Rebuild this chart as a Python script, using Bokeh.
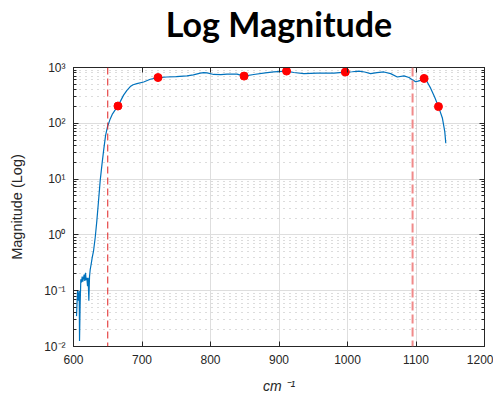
from bokeh.plotting import figure
from bokeh.models import (LogAxis, LinearAxis, FixedTicker, Span, Title,
                          CustomJSTickFormatter, Range1d)
from bokeh.embed import file_html
from bokeh.resources import INLINE

# ---------------- data ----------------
wavenumber = [604.4, 605.9, 607.3, 608.3, 608.8, 609.7, 610.7, 611.7, 612.7, 613.6,
              614.6, 615.6, 616.5, 617.5, 618.5, 619.5, 620.5, 621.4, 622.4, 623.4,
              624.4, 625.8, 627.3, 629.2, 631.7, 634.1, 636.5, 639.0, 641.5, 643.9,
              646.8, 649.7, 653.6, 657.0, 660.9, 664.9, 669.0, 673.1, 678.0, 682.9,
              687.0, 692.6, 702.4, 712.1, 723.4, 736.4, 750.0, 765.6, 775.0, 785.1,
              790.0, 795.0, 804.7, 815.0, 824.2, 838.8, 849.0, 863.2, 880.0, 892.4,
              911.0, 921.6, 936.3, 955.8, 980.1, 996.8, 1007.0, 1016.7, 1025.0, 1033.7,
              1043.0, 1053.2, 1063.0, 1072.7, 1082.5, 1089.8, 1095.0, 1099.5, 1103.0, 1106.8,
              1111.8, 1116.0, 1121.5, 1127.0, 1132.8, 1138.6, 1142.0, 1143.5]
magnitude = [0.035, 0.10, 0.066, 0.10, 0.0126, 0.058, 0.16, 0.14, 0.18, 0.145,
             0.17, 0.195, 0.15, 0.21, 0.155, 0.17, 0.12, 0.17, 0.066, 0.18,
             0.24, 0.30, 0.39, 0.51, 0.9, 1.8, 4.0, 9.5, 18, 32,
             60, 87, 120, 148, 174, 204, 255, 320, 390, 455,
             490, 515, 550, 615, 660, 676, 685, 708, 740, 795,
             810, 800, 750, 745, 760, 760, 701, 750, 800, 832,
             863, 813, 776, 795, 795, 828, 840, 861, 830, 776,
             810, 832, 776, 676, 708, 661, 600, 556, 570, 589,
             637, 560, 422, 300, 199, 123, 71, 44]

marker_x = [664.9, 723.4, 849.0, 911.0, 996.8, 1111.8, 1132.8]
marker_y = [204, 661, 701, 863, 828, 637, 199]

band_edges = [650, 1095]

x_ticks = [600, 700, 800, 900, 1000, 1100, 1200]
y_ticks = [0.01, 0.1, 1, 10, 100, 1000]
y_tick_labels = ["10\u207b\u00b2", "10\u207b\u00b9", "10\u2070", "10\u00b9", "10\u00b2", "10\u00b3"]
y_minor = [m * t for t in y_ticks[:-1] for m in range(2, 10)]

AX = "#262626"
FONT = "Liberation Sans"

p = figure(width=493, height=397, output_backend="svg", toolbar_location=None,
           y_axis_type="log", x_range=Range1d(600, 1200), y_range=Range1d(0.01, 1000),
           min_border_left=73, min_border_right=9, min_border_top=66, min_border_bottom=51,
           title="Log Magnitude", y_axis_location=None)
p.background_fill_color = "white"
p.border_fill_color = "white"
p.outline_line_color = AX
p.outline_line_width = 1

p.title.text_font = "Lato"
p.title.text_font_size = "34px"
p.title.text_font_style = "bold"
p.title.text_color = "black"
p.title.align = "center"
p.title.standoff = 0

# bottom x axis
xa = p.xaxis[0]
xa.ticker = FixedTicker(ticks=x_ticks)
xa.axis_line_color = AX
xa.major_tick_line_color = AX
xa.major_tick_in = 5
xa.major_tick_out = 0
xa.minor_tick_line_color = None
xa.major_label_text_font = FONT
xa.major_label_text_font_size = "12px"
xa.major_label_text_color = AX
xa.major_label_standoff = 8
xa.axis_label = "cm \u207b\u00b9"
xa.axis_label_text_font = FONT
xa.axis_label_text_font_size = "14px"
xa.axis_label_text_font_style = "italic"
xa.axis_label_text_color = AX
xa.axis_label_standoff = 11

# left y axis
ytick = FixedTicker(ticks=y_ticks, minor_ticks=y_minor)
ya = LogAxis(ticker=ytick, major_label_overrides=dict(zip(y_ticks, y_tick_labels)))
ya.axis_line_color = AX
ya.major_tick_line_color = AX
ya.minor_tick_line_color = AX
ya.major_tick_in = 5
ya.major_tick_out = 0
ya.minor_tick_in = 3
ya.minor_tick_out = 0
ya.major_label_standoff = 8
ya.major_label_text_font = FONT
ya.major_label_text_font_size = "12px"
ya.major_label_text_color = AX
ya.axis_label = "Magnitude (Log)"
ya.axis_label_text_font = FONT
ya.axis_label_text_font_size = "14.5px"
ya.axis_label_text_font_style = "normal"
ya.axis_label_text_color = AX
ya.axis_label_standoff = 16
p.add_layout(ya, "left")

# right and top box axes (ticks only)
ra = LogAxis(ticker=ytick, formatter=CustomJSTickFormatter(code="return ''"))
ra.axis_line_color = AX
ra.major_tick_line_color = AX
ra.minor_tick_line_color = AX
ra.major_tick_in = 5
ra.major_tick_out = 0
ra.minor_tick_in = 3
ra.minor_tick_out = 0
ra.major_label_standoff = 0
p.add_layout(ra, "right")

ta = LinearAxis(ticker=FixedTicker(ticks=x_ticks), formatter=CustomJSTickFormatter(code="return ''"))
ta.axis_line_color = AX
ta.major_tick_line_color = AX
ta.minor_tick_line_color = None
ta.major_tick_in = 5
ta.major_tick_out = 0
ta.major_label_standoff = 0
p.add_layout(ta, "above")

# blank spacer between the title and the plot box
p.add_layout(Title(text=" ", text_font_size="20px", standoff=0), "above")

# grids
p.xgrid.ticker = FixedTicker(ticks=x_ticks)
p.xgrid.grid_line_color = "#dedede"
p.xgrid.grid_line_width = 1
p.ygrid.ticker = ytick
p.ygrid.grid_line_color = "#dedede"
p.ygrid.grid_line_width = 1
p.ygrid.minor_grid_line_color = "#b8b8b8"
p.ygrid.minor_grid_line_dash = "1 5"
p.ygrid.minor_grid_line_width = 1

# band edge lines
p.add_layout(Span(location=band_edges[0], dimension="height", line_color="#e02020",
                  line_width=1, line_dash="7 4"))
p.add_layout(Span(location=band_edges[1], dimension="height", line_color="#f08a8a",
                  line_width=2, line_dash="9 4"))

p.line(wavenumber, magnitude, line_color="#0072BD", line_width=1.2)
p.scatter(marker_x, marker_y, size=8, fill_color="#ff0000", line_color="#ff0000")

open("out.html", "w").write(file_html(p, INLINE))
